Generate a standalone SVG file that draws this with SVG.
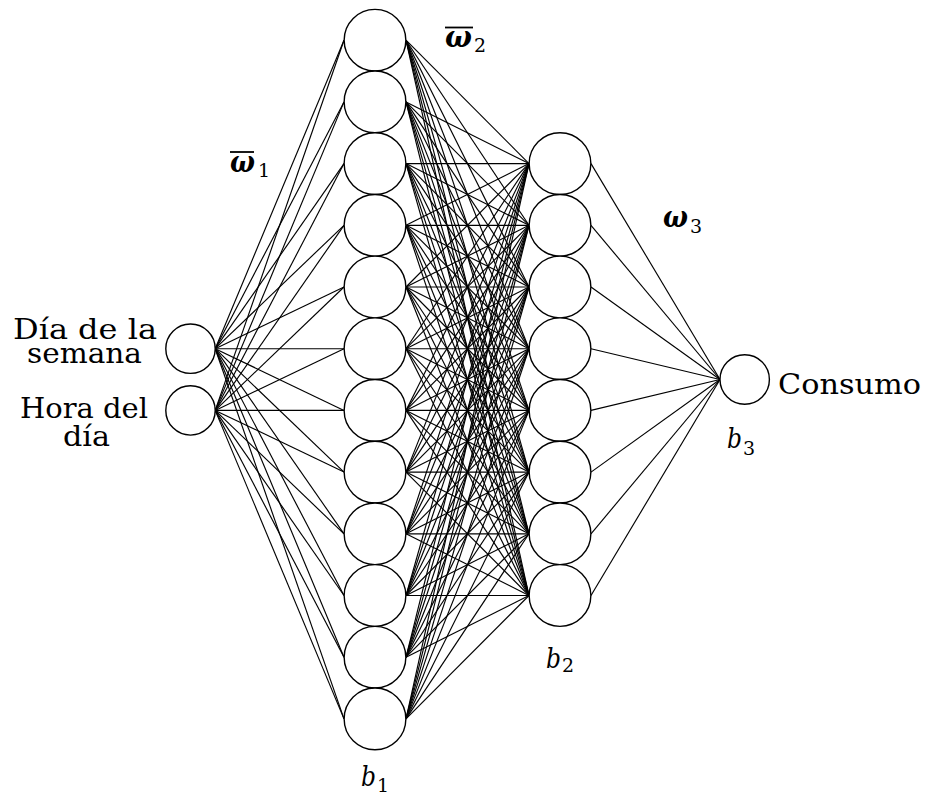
<svg xmlns="http://www.w3.org/2000/svg" width="927" height="798" viewBox="0 0 927 798">
<style>
.c{stroke:#000;stroke-width:1.15;fill:none}
.n{fill:#fff;stroke:#000;stroke-width:1.4}
.t{font-family:'DejaVu Serif','Liberation Serif',serif;font-size:28px;fill:#000}
.w{font-family:'DejaVu Serif','Liberation Serif',serif;font-size:30px;font-weight:bold;font-style:italic;fill:#000}
.b{font-family:'DejaVu Serif','Liberation Serif',serif;font-size:28px;font-style:italic;fill:#000}
.s{font-family:'DejaVu Serif','Liberation Serif',serif;font-size:19px;font-style:normal;font-weight:normal;fill:#000}
.bar{stroke:#000;stroke-width:1.8}
</style>
<rect width="927" height="798" fill="#fff"/>
<g id="connectors">
<line class="c" x1="215.2" y1="348.7" x2="344" y2="40.2"/>
<line class="c" x1="215.2" y1="348.7" x2="344" y2="101.9"/>
<line class="c" x1="215.2" y1="348.7" x2="344" y2="163.6"/>
<line class="c" x1="215.2" y1="348.7" x2="344" y2="225.3"/>
<line class="c" x1="215.2" y1="348.7" x2="344" y2="287"/>
<line class="c" x1="215.2" y1="348.7" x2="344" y2="348.7"/>
<line class="c" x1="215.2" y1="348.7" x2="344" y2="410.4"/>
<line class="c" x1="215.2" y1="348.7" x2="344" y2="472.1"/>
<line class="c" x1="215.2" y1="348.7" x2="344" y2="533.8"/>
<line class="c" x1="215.2" y1="348.7" x2="344" y2="595.5"/>
<line class="c" x1="215.2" y1="348.7" x2="344" y2="657.2"/>
<line class="c" x1="215.2" y1="348.7" x2="344" y2="718.9"/>
<line class="c" x1="215.2" y1="410.4" x2="344" y2="40.2"/>
<line class="c" x1="215.2" y1="410.4" x2="344" y2="101.9"/>
<line class="c" x1="215.2" y1="410.4" x2="344" y2="163.6"/>
<line class="c" x1="215.2" y1="410.4" x2="344" y2="225.3"/>
<line class="c" x1="215.2" y1="410.4" x2="344" y2="287"/>
<line class="c" x1="215.2" y1="410.4" x2="344" y2="348.7"/>
<line class="c" x1="215.2" y1="410.4" x2="344" y2="410.4"/>
<line class="c" x1="215.2" y1="410.4" x2="344" y2="472.1"/>
<line class="c" x1="215.2" y1="410.4" x2="344" y2="533.8"/>
<line class="c" x1="215.2" y1="410.4" x2="344" y2="595.5"/>
<line class="c" x1="215.2" y1="410.4" x2="344" y2="657.2"/>
<line class="c" x1="215.2" y1="410.4" x2="344" y2="718.9"/>

<line class="c" x1="406" y1="40.2" x2="529" y2="163.6"/>
<line class="c" x1="406" y1="40.2" x2="529" y2="225.3"/>
<line class="c" x1="406" y1="40.2" x2="529" y2="287"/>
<line class="c" x1="406" y1="40.2" x2="529" y2="348.7"/>
<line class="c" x1="406" y1="40.2" x2="529" y2="410.4"/>
<line class="c" x1="406" y1="40.2" x2="529" y2="472.1"/>
<line class="c" x1="406" y1="40.2" x2="529" y2="533.8"/>
<line class="c" x1="406" y1="40.2" x2="529" y2="595.5"/>
<line class="c" x1="406" y1="101.9" x2="529" y2="163.6"/>
<line class="c" x1="406" y1="101.9" x2="529" y2="225.3"/>
<line class="c" x1="406" y1="101.9" x2="529" y2="287"/>
<line class="c" x1="406" y1="101.9" x2="529" y2="348.7"/>
<line class="c" x1="406" y1="101.9" x2="529" y2="410.4"/>
<line class="c" x1="406" y1="101.9" x2="529" y2="472.1"/>
<line class="c" x1="406" y1="101.9" x2="529" y2="533.8"/>
<line class="c" x1="406" y1="101.9" x2="529" y2="595.5"/>
<line class="c" x1="406" y1="163.6" x2="529" y2="163.6"/>
<line class="c" x1="406" y1="163.6" x2="529" y2="225.3"/>
<line class="c" x1="406" y1="163.6" x2="529" y2="287"/>
<line class="c" x1="406" y1="163.6" x2="529" y2="348.7"/>
<line class="c" x1="406" y1="163.6" x2="529" y2="410.4"/>
<line class="c" x1="406" y1="163.6" x2="529" y2="472.1"/>
<line class="c" x1="406" y1="163.6" x2="529" y2="533.8"/>
<line class="c" x1="406" y1="163.6" x2="529" y2="595.5"/>
<line class="c" x1="406" y1="225.3" x2="529" y2="163.6"/>
<line class="c" x1="406" y1="225.3" x2="529" y2="225.3"/>
<line class="c" x1="406" y1="225.3" x2="529" y2="287"/>
<line class="c" x1="406" y1="225.3" x2="529" y2="348.7"/>
<line class="c" x1="406" y1="225.3" x2="529" y2="410.4"/>
<line class="c" x1="406" y1="225.3" x2="529" y2="472.1"/>
<line class="c" x1="406" y1="225.3" x2="529" y2="533.8"/>
<line class="c" x1="406" y1="225.3" x2="529" y2="595.5"/>
<line class="c" x1="406" y1="287" x2="529" y2="163.6"/>
<line class="c" x1="406" y1="287" x2="529" y2="225.3"/>
<line class="c" x1="406" y1="287" x2="529" y2="287"/>
<line class="c" x1="406" y1="287" x2="529" y2="348.7"/>
<line class="c" x1="406" y1="287" x2="529" y2="410.4"/>
<line class="c" x1="406" y1="287" x2="529" y2="472.1"/>
<line class="c" x1="406" y1="287" x2="529" y2="533.8"/>
<line class="c" x1="406" y1="287" x2="529" y2="595.5"/>
<line class="c" x1="406" y1="348.7" x2="529" y2="163.6"/>
<line class="c" x1="406" y1="348.7" x2="529" y2="225.3"/>
<line class="c" x1="406" y1="348.7" x2="529" y2="287"/>
<line class="c" x1="406" y1="348.7" x2="529" y2="348.7"/>
<line class="c" x1="406" y1="348.7" x2="529" y2="410.4"/>
<line class="c" x1="406" y1="348.7" x2="529" y2="472.1"/>
<line class="c" x1="406" y1="348.7" x2="529" y2="533.8"/>
<line class="c" x1="406" y1="348.7" x2="529" y2="595.5"/>
<line class="c" x1="406" y1="410.4" x2="529" y2="163.6"/>
<line class="c" x1="406" y1="410.4" x2="529" y2="225.3"/>
<line class="c" x1="406" y1="410.4" x2="529" y2="287"/>
<line class="c" x1="406" y1="410.4" x2="529" y2="348.7"/>
<line class="c" x1="406" y1="410.4" x2="529" y2="410.4"/>
<line class="c" x1="406" y1="410.4" x2="529" y2="472.1"/>
<line class="c" x1="406" y1="410.4" x2="529" y2="533.8"/>
<line class="c" x1="406" y1="410.4" x2="529" y2="595.5"/>
<line class="c" x1="406" y1="472.1" x2="529" y2="163.6"/>
<line class="c" x1="406" y1="472.1" x2="529" y2="225.3"/>
<line class="c" x1="406" y1="472.1" x2="529" y2="287"/>
<line class="c" x1="406" y1="472.1" x2="529" y2="348.7"/>
<line class="c" x1="406" y1="472.1" x2="529" y2="410.4"/>
<line class="c" x1="406" y1="472.1" x2="529" y2="472.1"/>
<line class="c" x1="406" y1="472.1" x2="529" y2="533.8"/>
<line class="c" x1="406" y1="472.1" x2="529" y2="595.5"/>
<line class="c" x1="406" y1="533.8" x2="529" y2="163.6"/>
<line class="c" x1="406" y1="533.8" x2="529" y2="225.3"/>
<line class="c" x1="406" y1="533.8" x2="529" y2="287"/>
<line class="c" x1="406" y1="533.8" x2="529" y2="348.7"/>
<line class="c" x1="406" y1="533.8" x2="529" y2="410.4"/>
<line class="c" x1="406" y1="533.8" x2="529" y2="472.1"/>
<line class="c" x1="406" y1="533.8" x2="529" y2="533.8"/>
<line class="c" x1="406" y1="533.8" x2="529" y2="595.5"/>
<line class="c" x1="406" y1="595.5" x2="529" y2="163.6"/>
<line class="c" x1="406" y1="595.5" x2="529" y2="225.3"/>
<line class="c" x1="406" y1="595.5" x2="529" y2="287"/>
<line class="c" x1="406" y1="595.5" x2="529" y2="348.7"/>
<line class="c" x1="406" y1="595.5" x2="529" y2="410.4"/>
<line class="c" x1="406" y1="595.5" x2="529" y2="472.1"/>
<line class="c" x1="406" y1="595.5" x2="529" y2="533.8"/>
<line class="c" x1="406" y1="595.5" x2="529" y2="595.5"/>
<line class="c" x1="406" y1="657.2" x2="529" y2="163.6"/>
<line class="c" x1="406" y1="657.2" x2="529" y2="225.3"/>
<line class="c" x1="406" y1="657.2" x2="529" y2="287"/>
<line class="c" x1="406" y1="657.2" x2="529" y2="348.7"/>
<line class="c" x1="406" y1="657.2" x2="529" y2="410.4"/>
<line class="c" x1="406" y1="657.2" x2="529" y2="472.1"/>
<line class="c" x1="406" y1="657.2" x2="529" y2="533.8"/>
<line class="c" x1="406" y1="657.2" x2="529" y2="595.5"/>
<line class="c" x1="406" y1="718.9" x2="529" y2="163.6"/>
<line class="c" x1="406" y1="718.9" x2="529" y2="225.3"/>
<line class="c" x1="406" y1="718.9" x2="529" y2="287"/>
<line class="c" x1="406" y1="718.9" x2="529" y2="348.7"/>
<line class="c" x1="406" y1="718.9" x2="529" y2="410.4"/>
<line class="c" x1="406" y1="718.9" x2="529" y2="472.1"/>
<line class="c" x1="406" y1="718.9" x2="529" y2="533.8"/>
<line class="c" x1="406" y1="718.9" x2="529" y2="595.5"/>

<line class="c" x1="591" y1="163.6" x2="720" y2="379.5"/>
<line class="c" x1="591" y1="225.3" x2="720" y2="379.5"/>
<line class="c" x1="591" y1="287" x2="720" y2="379.5"/>
<line class="c" x1="591" y1="348.7" x2="720" y2="379.5"/>
<line class="c" x1="591" y1="410.4" x2="720" y2="379.5"/>
<line class="c" x1="591" y1="472.1" x2="720" y2="379.5"/>
<line class="c" x1="591" y1="533.8" x2="720" y2="379.5"/>
<line class="c" x1="591" y1="595.5" x2="720" y2="379.5"/>
</g>

<g id="in1"><circle class="n" cx="190.5" cy="348.7" r="24.7"/>
<text class="t"><tspan x="13" y="339" textLength="144" lengthAdjust="spacingAndGlyphs">Día de la</tspan><tspan x="27" y="363" textLength="115" lengthAdjust="spacingAndGlyphs">semana</tspan></text></g>
<g id="in2"><circle class="n" cx="190.5" cy="410.4" r="24.7"/>
<text class="t"><tspan x="20" y="418" textLength="128" lengthAdjust="spacingAndGlyphs">Hora del</tspan><tspan x="63" y="446" textLength="47" lengthAdjust="spacingAndGlyphs">día</tspan></text></g>

<g id="h1_1"><circle class="n" cx="375" cy="40.2" r="30.85"/></g>
<g id="h1_2"><circle class="n" cx="375" cy="101.9" r="30.85"/></g>
<g id="h1_3"><circle class="n" cx="375" cy="163.6" r="30.85"/></g>
<g id="h1_4"><circle class="n" cx="375" cy="225.3" r="30.85"/></g>
<g id="h1_5"><circle class="n" cx="375" cy="287" r="30.85"/></g>
<g id="h1_6"><circle class="n" cx="375" cy="348.7" r="30.85"/></g>
<g id="h1_7"><circle class="n" cx="375" cy="410.4" r="30.85"/></g>
<g id="h1_8"><circle class="n" cx="375" cy="472.1" r="30.85"/></g>
<g id="h1_9"><circle class="n" cx="375" cy="533.8" r="30.85"/></g>
<g id="h1_10"><circle class="n" cx="375" cy="595.5" r="30.85"/></g>
<g id="h1_11"><circle class="n" cx="375" cy="657.2" r="30.85"/></g>
<g id="h1_12"><circle class="n" cx="375" cy="718.9" r="30.85"/></g>

<g id="h2_1"><circle class="n" cx="560" cy="163.6" r="30.85"/></g>
<g id="h2_2"><circle class="n" cx="560" cy="225.3" r="30.85"/></g>
<g id="h2_3"><circle class="n" cx="560" cy="287" r="30.85"/></g>
<g id="h2_4"><circle class="n" cx="560" cy="348.7" r="30.85"/></g>
<g id="h2_5"><circle class="n" cx="560" cy="410.4" r="30.85"/></g>
<g id="h2_6"><circle class="n" cx="560" cy="472.1" r="30.85"/></g>
<g id="h2_7"><circle class="n" cx="560" cy="533.8" r="30.85"/></g>
<g id="h2_8"><circle class="n" cx="560" cy="595.5" r="30.85"/></g>

<g id="out"><circle class="n" cx="744.7" cy="379.5" r="24.7"/>
<text class="t" x="778" y="394" textLength="143" lengthAdjust="spacingAndGlyphs">Consumo</text></g>

<g id="labels">
<line class="bar" x1="230" y1="152" x2="254" y2="152"/>
<text class="w" x="230" y="171.5"><tspan textLength="25" lengthAdjust="spacingAndGlyphs">ω</tspan><tspan class="s" x="258" y="177">1</tspan></text>
<line class="bar" x1="445" y1="27.5" x2="473" y2="27.5"/>
<text class="w" x="445" y="47"><tspan textLength="27" lengthAdjust="spacingAndGlyphs">ω</tspan><tspan class="s" x="474" y="51.5">2</tspan></text>
<text class="w" x="663" y="227"><tspan textLength="25" lengthAdjust="spacingAndGlyphs">ω</tspan><tspan class="s" x="690" y="233">3</tspan></text>
<text class="b" x="361" y="786"><tspan textLength="15" lengthAdjust="spacingAndGlyphs">b</tspan><tspan class="s" x="377" y="792">1</tspan></text>
<text class="b" x="546" y="667.5"><tspan textLength="15" lengthAdjust="spacingAndGlyphs">b</tspan><tspan class="s" x="562" y="672">2</tspan></text>
<text class="b" x="727" y="448"><tspan textLength="15" lengthAdjust="spacingAndGlyphs">b</tspan><tspan class="s" x="743" y="455">3</tspan></text>
</g>
</svg>
